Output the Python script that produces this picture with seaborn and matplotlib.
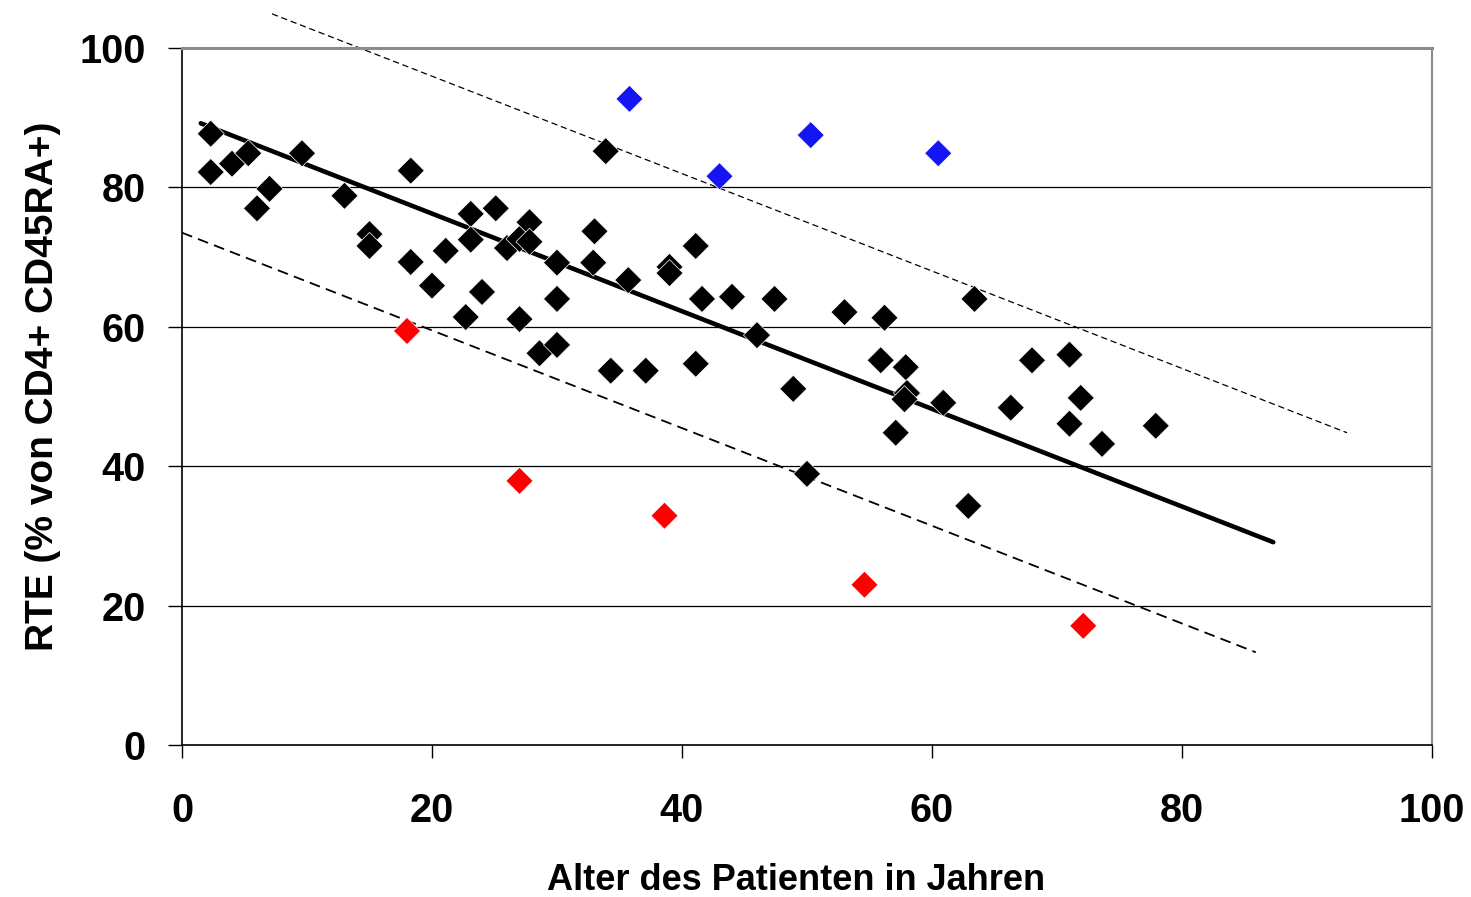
import matplotlib
matplotlib.use("Agg")
import matplotlib.pyplot as plt
import seaborn as sns
import pandas as pd

# --- data ---
age_normal = [2.3, 2.3, 4.0, 5.3, 6.0, 7.0, 9.6, 13.0, 15.0, 15.0, 18.3, 18.3, 20.0, 21.1,
              22.7, 23.1, 23.1, 24.0, 25.1, 26.0, 27.0, 27.8, 27.8, 27.0, 28.6, 30.0, 30.0,
              30.0, 33.0, 32.9, 33.9, 34.3, 35.7, 37.1, 39.0, 39.0, 41.1, 41.1, 41.6, 44.0,
              46.0, 47.4, 48.9, 50.0, 53.0, 55.9, 56.2, 57.1, 57.9, 58.0, 57.8, 60.9, 63.4,
              62.9, 66.3, 68.0, 71.0, 71.0, 71.9, 73.6, 77.9]
rte_normal = [87.7, 82.2, 83.4, 84.9, 77.0, 79.8, 84.9, 78.8, 73.3, 71.6, 82.4, 69.3, 65.9, 70.9,
              61.4, 76.2, 72.5, 65.0, 77.0, 71.3, 72.6, 75.0, 72.2, 61.1, 56.2, 69.2, 64.0,
              57.4, 73.7, 69.2, 85.2, 53.7, 66.7, 53.7, 68.6, 67.7, 71.6, 54.7, 64.0, 64.3,
              58.8, 64.0, 51.1, 38.9, 62.1, 55.2, 61.3, 44.8, 54.2, 50.5, 49.6, 49.1, 64.0,
              34.3, 48.4, 55.2, 56.0, 46.1, 49.8, 43.2, 45.8]
age_high = [35.8, 43.0, 50.3, 60.5]
rte_high = [92.7, 81.6, 87.5, 84.9]
age_low = [18.0, 27.0, 38.6, 54.6, 72.1]
rte_low = [59.4, 37.9, 32.9, 23.0, 17.1]

fit_x = [1.5, 87.3]
fit_y = [89.2, 29.1]
upper_x = [7.2, 93.2]
upper_y = [104.9, 44.8]
lower_x = [0.0, 85.9]
lower_y = [73.5, 13.3]

x_ticks = [0, 20, 40, 60, 80, 100]
y_ticks = [0, 20, 40, 60, 80, 100]
x_label = "Alter des Patienten in Jahren"
y_label = "RTE (% von CD4+ CD45RA+)"

df = pd.DataFrame({
    "age": age_normal + age_high + age_low,
    "rte": rte_normal + rte_high + rte_low,
    "group": ["normal"] * len(age_normal) + ["high"] * len(age_high) + ["low"] * len(age_low),
})

sns.set_theme(style="white")
plt.rcParams["font.family"] = ["Liberation Sans", "DejaVu Sans"]
plt.rcParams["font.weight"] = "bold"
for k in ["text.color", "axes.labelcolor", "xtick.color", "ytick.color"]:
    plt.rcParams[k] = "black"

fig = plt.figure(figsize=(14.71, 8.97), dpi=100)
ax = fig.add_axes([182 / 1471, 1 - 745 / 897, 1250 / 1471, 697 / 897])

# grid lines
for yv in y_ticks[1:-1]:
    ax.axhline(yv, color="black", lw=0.9, zorder=0)

# lines
sns.lineplot(x=fit_x, y=fit_y, ax=ax, color="black", lw=3.3, zorder=2)
sns.lineplot(x=lower_x, y=lower_y, ax=ax, color="black", lw=1.3, zorder=2,
             linestyle=(0, (6, 3.5)))
sns.lineplot(x=upper_x, y=upper_y, ax=ax, color="black", lw=0.9, zorder=2,
             linestyle=(0, (5, 3)))
ax.lines[-1].set_clip_on(False)

palette = {"normal": "black", "high": "#1414f5", "low": "#ff0000"}
sns.scatterplot(data=df, x="age", y="rte", hue="group", palette=palette, marker="D",
                s=190, edgecolor="white", linewidth=0.5, legend=False, ax=ax, zorder=3)

ax.set_xlim(0, 100)
ax.set_ylim(0, 100)
ax.set_xticks(x_ticks)
ax.set_yticks(y_ticks)
ax.set_xticklabels([str(v) for v in x_ticks], fontsize=28.5, fontweight="bold")
ax.set_yticklabels([str(v) for v in y_ticks], fontsize=28.5, fontweight="bold")
ax.tick_params(axis="x", direction="out", length=9.4, width=1, color="black", pad=24.5, bottom=True)
ax.tick_params(axis="y", direction="out", length=10, width=1, color="black", pad=16, left=True)

ax.set_xlabel(x_label, fontsize=26, fontweight="bold")
ax.set_ylabel(y_label, fontsize=28, fontweight="bold")
ax.xaxis.set_label_coords(0.491, -0.170)
ax.yaxis.set_label_coords(-0.097, 0.514)

for side in ["left", "bottom"]:
    ax.spines[side].set_color("black")
    ax.spines[side].set_linewidth(1.2)
ax.spines["top"].set_color("#8c8c8c")
ax.spines["top"].set_linewidth(2.2)
ax.spines["right"].set_color("#8c8c8c")
ax.spines["right"].set_linewidth(1.5)

fig.savefig("out.png", dpi=100)
